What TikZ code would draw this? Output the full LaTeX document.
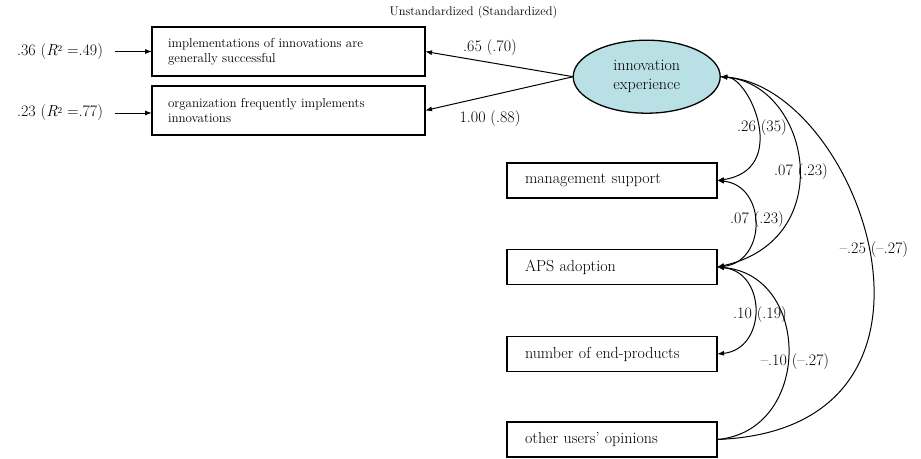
\documentclass[tikz,border=0pt]{standalone}
\usetikzlibrary{arrows.meta,shapes.geometric}
\definecolor{latentfill}{RGB}{185,224,228}
\newcommand{\rsq}{\textit{R}\raisebox{0.55ex}{\fontsize{9}{9}\selectfont 2}}
\begin{document}
\begin{tikzpicture}[x=1pt,y=-1pt,
  >={Latex[length=7pt,width=5pt]},
  every node/.style={inner sep=0pt,outer sep=0pt},
  numlabel/.style={font=\fontsize{16}{19}\selectfont},
  indbox/.style={draw,line width=1.3pt,minimum width=273pt,minimum height=49pt,
    text width=241pt,align=left,inner xsep=16pt,font=\fontsize{13}{15}\selectfont},
  obsbox/.style={draw,line width=1.3pt,minimum width=210pt,minimum height=35pt,
    text width=174pt,align=left,inner xsep=18pt,font=\fontsize{16}{19}\selectfont},
  latent/.style={ellipse,draw,line width=1.3pt,fill=latentfill,minimum width=147pt,
    minimum height=73pt,align=center,font=\fontsize{16}{19}\selectfont},
  path/.style={line width=1pt},
  cov/.style={line width=1pt}]
\useasboundingbox (0,0) rectangle (921,458);

% heading
\node[font=\fontsize{12.5}{14}\selectfont] (head) at (473.5,12) {Unstandardized (Standardized)};

% indicators of the latent factor
\node[indbox] (b1) at (288.5,51.5) {implementations of innovations are\\generally successful};
\node[indbox] (b2) at (288.5,110.5) {organization frequently implements\\innovations};

% error variances
\node[numlabel,anchor=east] (e1) at (103,51.5) {.36 (\rsq\ =.49)};
\node[numlabel,anchor=east] (e2) at (103,113) {.23 (\rsq\ =.77)};
\draw[path,->,shorten <=12pt] (e1.east) -- (b1.west);
\draw[path,->,shorten <=12pt] (e2.east) -- (e2.east -| b2.west);

% latent factor
\node[latent] (ie) at (646.7,76.7) {innovation\\experience};

% loadings
\draw[path,->] (ie.west) -- (b1.east);
\draw[path,->] (ie.west) -- (b2.east);
\node[numlabel] (l1) at (490,48) {.65 (.70)};
\node[numlabel] (l2) at (490,119) {1.00 (.88)};

% observed variables
\node[obsbox] (ms) at (612,180.5) {management support};
\node[obsbox] (aps) at (612,267) {APS adoption};
\node[obsbox] (ne) at (612,354) {number of end-products};
\node[obsbox] (ou) at (612,439.5) {other users' opinions};

% covariances
\draw[cov,<->] (ie.east) .. controls +(30,1) and +(73,-10.5) .. (ms.east);
\draw[cov,<->] (ie.east) .. controls +(90,8) and +(123,-27) .. (aps.east);
\draw[cov,<-] (ie.east) .. controls +(140,10) and +(265,-10) .. (ou.east);
\draw[cov,<->] (ms.east) .. controls +(50,5) and +(50,-5) .. (aps.east);
\draw[cov,<->] (aps.east) .. controls +(50,5) and +(50,-5) .. (ne.east);
\draw[cov,<-] (aps.east) .. controls +(95,8) and +(95,-8) .. (ou.east);

\node[numlabel] (c1) at (762,128) {.26 (35)};
\node[numlabel] (c2) at (801,172) {.07 (.23)};
\node[numlabel] (c3) at (874,250) {–.25 (–.27)};
\node[numlabel] (c4) at (757,220) {.07 (.23)};
\node[numlabel] (c5) at (760,315) {.10 (.19)};
\node[numlabel] (c6) at (795,362) {–.10 (–.27)};
\end{tikzpicture}
\end{document}
